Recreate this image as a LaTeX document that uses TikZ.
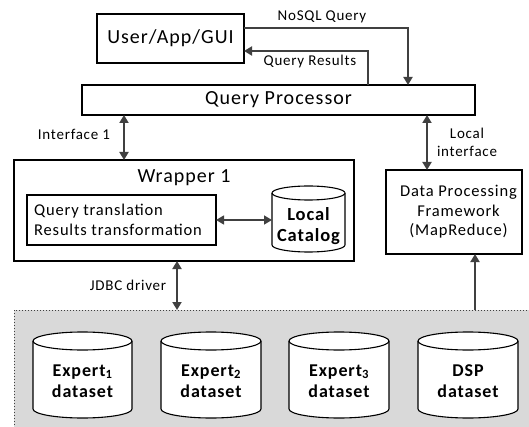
\documentclass[tikz,border=0pt]{standalone}
\usepackage{fontspec}
\setmainfont{Carlito}[LetterSpace=5]
\usetikzlibrary{arrows.meta}
\definecolor{arr}{HTML}{404040}
\definecolor{panel}{HTML}{D9D9D9}
\newcommand\fs[1]{\fontsize{#1}{#1}\selectfont}
\newcommand\mycyl[5]{% L R T B r
  \pgfmathsetmacro\cx{(#1+#2)/2}\pgfmathsetmacro\rx{(#2-#1)/2}
  \filldraw[cylline] (#1,#3+#5) -- (#1,#4-#5) arc[start angle=180,end angle=0,x radius=\rx,y radius=#5] -- (#2,#3+#5) arc[start angle=0,end angle=-180,x radius=\rx,y radius=#5] -- cycle;
  \draw[cylline] (#1,#3+#5) arc[start angle=180,end angle=0,x radius=\rx,y radius=#5];
}
\begin{document}
\begin{tikzpicture}[x=1pt,y=-1pt,
  box/.style={draw=black,line width=1.8pt,fill=white,inner sep=0pt},
  cylline/.style={draw=black,line width=1.1pt,fill=white},
  conn/.style={draw=arr,line width=1.8pt,-{Triangle[length=8pt,width=9pt]}},
  conn2/.style={draw=arr,line width=1.8pt,{Triangle[length=8pt,width=9pt]}-{Triangle[length=8pt,width=9pt]}},
  lbl/.style={inner sep=0pt,font=\fs{15}}]
\useasboundingbox (0,0) rectangle (529,427);
% panel
\begin{scope}
\clip (0,0) rectangle (529,427);
\draw[fill=panel,draw=arr,line width=1pt,dotted] (14,310) rectangle (545,445);
\end{scope}
\coordinate (pnl) at (14,310);
% boxes
\node[box,minimum width=147pt,minimum height=49pt,font=\fs{20}] (user) at (170.5,38.5) {User/App/GUI};
\node[box,minimum width=393pt,minimum height=30pt,font=\fs{20}] (qp) at (278.5,100) {Query Processor};
\node[box,minimum width=340pt,minimum height=101pt] (wrap) at (184,210.5) {};
\node[inner sep=0pt,font=\fs{20}] (wtitle) at (184,178) {Wrapper 1};
\node[box,minimum width=189pt,minimum height=50pt] (inner) at (121.5,220) {};
\node[inner sep=0pt,font=\fs{16.5},align=left,anchor=west] (innert) at (34,220) {Query translation\\[3pt]Results transformation};
\node[box,minimum width=136pt,minimum height=84pt] (dpf) at (454,212) {};
\node[inner sep=0pt,font=\fs{16.5},align=center] (dpft) at (458.5,212) {Data Processing\\[3pt]Framework\\[3pt](MapReduce)};
% local catalog
\mycyl{272}{345}{186}{252}{7}
\node[inner sep=0pt,font=\fs{18.5}\bfseries,align=center] (cat) at (308.5,226) {Local\\[2pt]Catalog};
% datasets
\mycyl{33}{132}{332}{418}{9}
\mycyl{161}{261}{332}{418}{9}
\mycyl{289}{389}{332}{418}{9}
\mycyl{418}{518}{332}{418}{9}
\node[inner sep=0pt,font=\fs{18}\bfseries,align=center] (e1) at (82.5,381) {Expert\textsubscript{1}\\[3pt]dataset};
\node[inner sep=0pt,font=\fs{18}\bfseries,align=center] (e2) at (211,381) {Expert\textsubscript{2}\\[3pt]dataset};
\node[inner sep=0pt,font=\fs{18}\bfseries,align=center] (e3) at (339,381) {Expert\textsubscript{3}\\[3pt]dataset};
\node[inner sep=0pt,font=\fs{18}\bfseries,align=center] (dsp) at (468,381) {DSP\\[3pt]dataset};
% connectors
\coordinate (nq1) at (244,28);
\coordinate (nq2) at (408,85);
\draw[conn] (nq1) -| (nq2);
\node[lbl] (nql) at (322,17) {NoSQL Query};
\coordinate (qr1) at (368,85);
\coordinate (qr2) at (244,51);
\draw[conn] (qr1) |- (qr2);
\node[lbl] (qrl) at (310,62) {Query Results};
\coordinate (i1a) at (124,115);
\coordinate (i1b) at (124,160);
\draw[conn2] (i1a) -- (i1b);
\node[lbl] (i1l) at (74,134) {Interface 1};
\coordinate (lia) at (427,115);
\coordinate (lib) at (427,170);
\draw[conn2] (lia) -- (lib);
\node[lbl,align=center] (lil) at (467,142.5) {Local\\[3pt]interface};
\coordinate (ca) at (216,220);
\coordinate (cb) at (272,220);
\draw[conn2,line width=1.4pt] (ca) -- (cb);
\coordinate (ja) at (177,261);
\coordinate (jb) at (177,310);
\draw[conn2] (ja) -- (jb);
\node[lbl] (jl) at (128,285) {JDBC driver};
\coordinate (da) at (475,310);
\coordinate (db) at (475,254);
\draw[conn] (da) -- (db);
\end{tikzpicture}
\end{document}
